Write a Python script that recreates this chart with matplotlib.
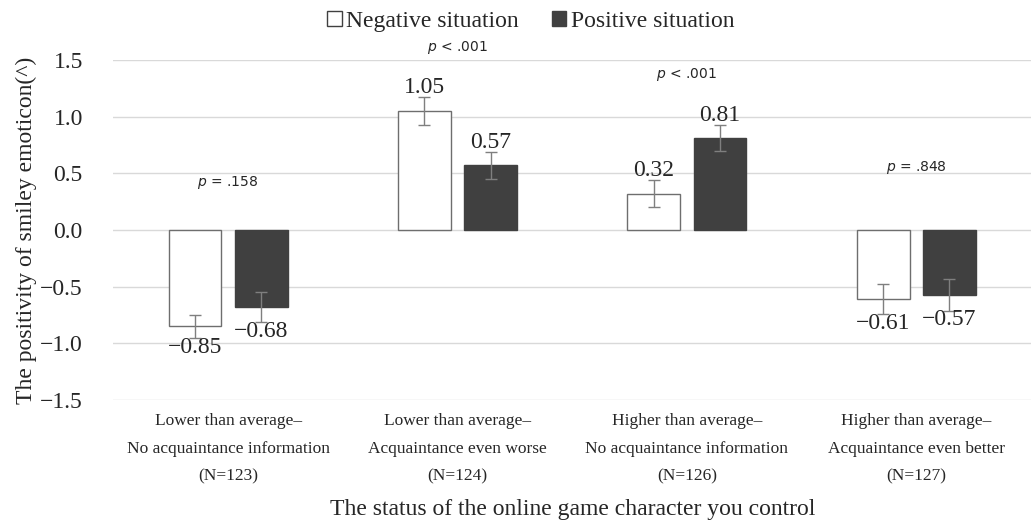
import matplotlib.pyplot as plt
import numpy as np
from matplotlib.patches import Patch

categories = [
    'Lower than average\u2013\nNo acquaintance information\n(N=123)',
    'Lower than average\u2013\nAcquaintance even worse\n(N=124)',
    'Higher than average\u2013\nNo acquaintance information\n(N=126)',
    'Higher than average\u2013\nAcquaintance even better\n(N=127)',
]
negative = [-0.85, 1.05, 0.32, -0.61]
positive = [-0.68, 0.57, 0.81, -0.57]
negative_err = [0.105, 0.12, 0.12, 0.13]
positive_err = [0.13, 0.12, 0.115, 0.14]
p_labels = ['= .158', '< .001', '< .001', '= .848']
p_heights = [0.42, 1.61, 1.37, 0.55]

plt.rcParams['font.family'] = ['Liberation Serif', 'DejaVu Serif']
text_color = '#262626'

fig = plt.figure(figsize=(10.31, 5.21), dpi=100)
ax = fig.add_axes([0.11, 0.232, 0.89, 0.653])

x = np.arange(len(categories))
width = 0.23
offset = 0.144

err_style = dict(ecolor='#7f7f7f', elinewidth=1, capsize=4, capthick=1)
ax.bar(x - offset, negative, width, color='white', edgecolor='#6e6e6e',
       linewidth=1, yerr=negative_err, error_kw=err_style, zorder=2)
ax.bar(x + offset, positive, width, color='#404040', edgecolor='#404040',
       linewidth=1, yerr=positive_err, error_kw=err_style, zorder=2)

# value labels: above the error bar for positive means, below it for negative
for xs, vals, errs in [(x - offset, negative, negative_err), (x + offset, positive, positive_err)]:
    for xi, v, e in zip(xs, vals, errs):
        if v >= 0:
            ax.text(xi, v + e - 0.01, f'{v:.2f}', ha='center', va='bottom', fontsize=17,
                    color=text_color)
        else:
            ax.text(xi, v - e + 0.01, f'{v:.2f}'.replace('-', '\u2212'), ha='center', va='top',
                    fontsize=17, color=text_color)

# significance tests per condition
for xi, lab, h in zip(x, p_labels, p_heights):
    ax.text(xi, h, '$\\it{p}$ ' + lab, ha='center', va='center', fontsize=10,
            family='DejaVu Sans', color=text_color, clip_on=False)

ax.set_xlim(-0.5, 3.5)
ax.set_ylim(-1.5, 1.5)
ax.set_yticks([-1.5, -1.0, -0.5, 0.0, 0.5, 1.0, 1.5])
ax.set_yticklabels(['\u22121.5', '\u22121.0', '\u22120.5', '0.0', '0.5', '1.0', '1.5'])
ax.set_xticks(x)
ax.set_xticklabels(categories, fontsize=12.5, linespacing=2.0)
ax.tick_params(axis='y', length=0, pad=22, labelsize=17, colors=text_color)
ax.tick_params(axis='x', length=0, pad=9, colors=text_color)
ax.grid(axis='y', color='#d9d9d9', linewidth=1, zorder=0)
ax.set_axisbelow(True)
for spine in ax.spines.values():
    spine.set_visible(False)

ax.set_ylabel('The positivity of smiley emoticon(^)', fontsize=17, color=text_color, labelpad=2)
ax.set_xlabel('The status of the online game character you control', fontsize=17,
              color=text_color, labelpad=10)

handles = [Patch(facecolor='white', edgecolor='#404040', linewidth=1),
           Patch(facecolor='#404040', edgecolor='#404040', linewidth=1)]
fig.legend(handles, ['Negative situation', 'Positive situation'], loc='upper center',
           bbox_to_anchor=(0.515, 1.02), ncol=2, frameon=False, fontsize=17,
           handlelength=0.6, handleheight=0.6, handletextpad=0.2, columnspacing=1.4,
           labelcolor=text_color)

fig.savefig('out.png', dpi=100)
